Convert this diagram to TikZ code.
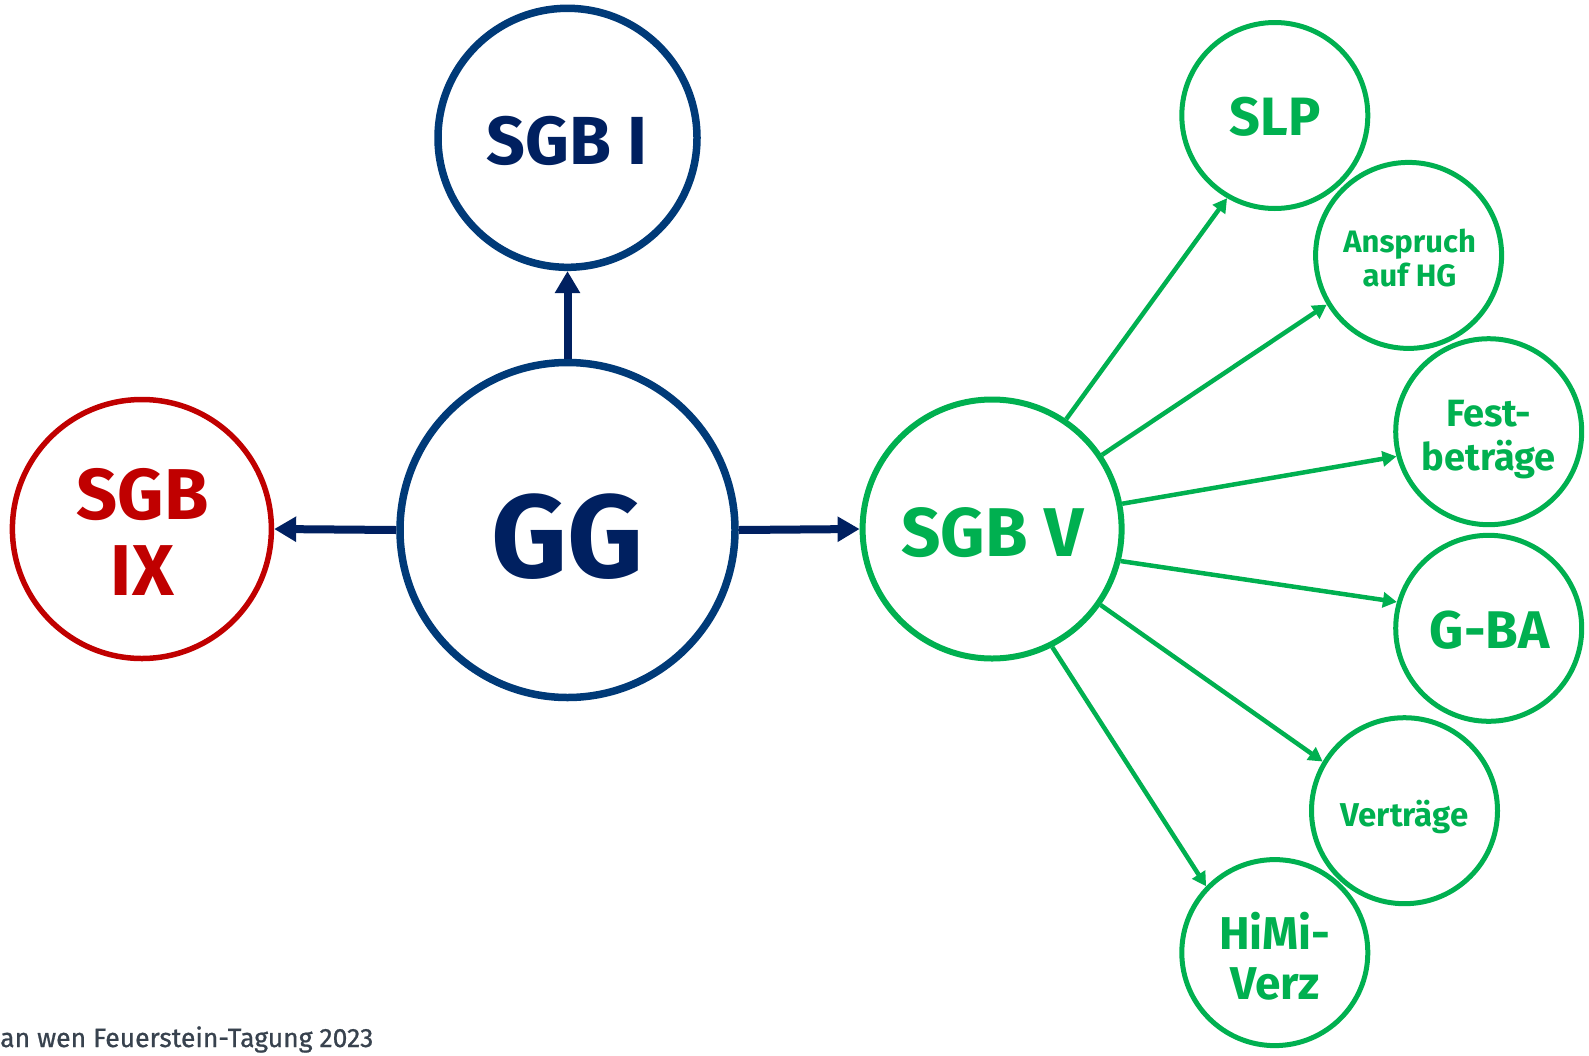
\documentclass[tikz,border=0pt]{standalone}
\usepackage{fontspec}
\setmainfont{Fira Sans}
\usetikzlibrary{arrows.meta}
\definecolor{navy}{HTML}{002060}
\definecolor{ringblue}{HTML}{003A78}
\definecolor{sgbred}{HTML}{C00000}
\definecolor{sgbgreen}{HTML}{00B050}
\definecolor{footgray}{HTML}{38424E}
\newcommand\fs[2]{\fontsize{#1pt}{#2pt}\selectfont}
\begin{document}
\begin{tikzpicture}[x=1pt,y=-1pt,
  ring/.style={circle,draw,inner sep=0pt},
  bluering/.style={ring,draw=ringblue,line width=7.5pt},
  redring/.style={ring,draw=sgbred,line width=5.5pt,minimum size=259pt},
  greenbig/.style={ring,draw=sgbgreen,line width=6pt,minimum size=259pt},
  greensmall/.style={ring,draw=sgbgreen,line width=5pt,minimum size=186pt},
  bluearrow/.style={draw=navy,line width=8pt,-{Triangle[length=22pt,width=24pt]}},
  greenarrow/.style={draw=sgbgreen,line width=4.5pt,-{Triangle[length=14pt,width=15pt]}},
  txt/.style 2 args={inner sep=0pt,align=center,font={\bfseries\fs{#1}{#2}}},
  bluetxt/.style 2 args={txt={#1}{#2},text=navy},
  redtxt/.style 2 args={txt={#1}{#2},text=sgbred},
  greentxt/.style 2 args={txt={#1}{#2},text=sgbgreen}]
\useasboundingbox (0,0) rectangle (1589,1055);

% rings
\node[bluering,minimum size=259pt] (sgbI) at (567.5,137.8) {};
\node[bluering,minimum size=335pt] (gg) at (567.5,530) {};
\node[redring] (sgbIX) at (141.9,529) {};
\node[greenbig] (sgbV) at (992.1,529) {};
\node[greensmall] (slp) at (1274.8,115.5) {};
\node[greensmall] (hg) at (1408.6,255.4) {};
\node[greensmall] (fest) at (1488.7,431.7) {};
\node[greensmall] (gba) at (1488.7,628.3) {};
\node[greensmall] (vertr) at (1404.5,810.7) {};
\node[greensmall] (himi) at (1274.8,952.6) {};

% labels
\node[bluetxt={68}{76}] (tI) at (567,141) {SGB I};
\node[bluetxt={118}{130}] (tGG) at (567.5,536.6) {GG};
\node[redtxt={72}{76}] (tIX) at (142.4,532) {SGB\\IX};
\node[greentxt={69}{76}] (tV) at (992.6,532.5) {SGB V};
\node[greentxt={54}{60}] (tSLP) at (1275.4,117) {SLP};
\node[greentxt={31}{34.5}] (tHG) at (1409.6,258) {Anspruch\\auf HG};
\node[greentxt={38}{44}] (tFest) at (1488.7,440) {Fest-\\beträge};
\node[greentxt={53}{60}] (tGBA) at (1489.7,630.3) {G-BA};
\node[greentxt={33}{40}] (tVer) at (1404.5,817) {Verträge};
\node[greentxt={46}{50}] (tHiMi) at (1274.8,956.6) {HiMi-\\Verz};

% connectors
\draw[bluearrow] (gg.north) -- (sgbI.south);
\draw[bluearrow] (gg.west) -- (sgbIX.east);
\draw[bluearrow] (gg.east) -- (sgbV.west);
\draw[greenarrow] (sgbV.56) -- (slp.240);
\draw[greenarrow] (sgbV.34) -- (hg.211);
\draw[greenarrow] (sgbV.11.6) -- (fest.195);
\draw[greenarrow] (sgbV.-14.5) -- (gba.164);
\draw[greenarrow] (sgbV.-35) -- (vertr.149);
\draw[greenarrow] (sgbV.-63.6) -- (himi.136);

% footer
\node[anchor=base west,inner sep=0pt,text=footgray] (foot) at (0,1047)
  {\fs{26.5}{30}\addfontfeature{FakeBold=0.8}an wen Feuerstein-Tagung 2023};
\end{tikzpicture}
\end{document}
